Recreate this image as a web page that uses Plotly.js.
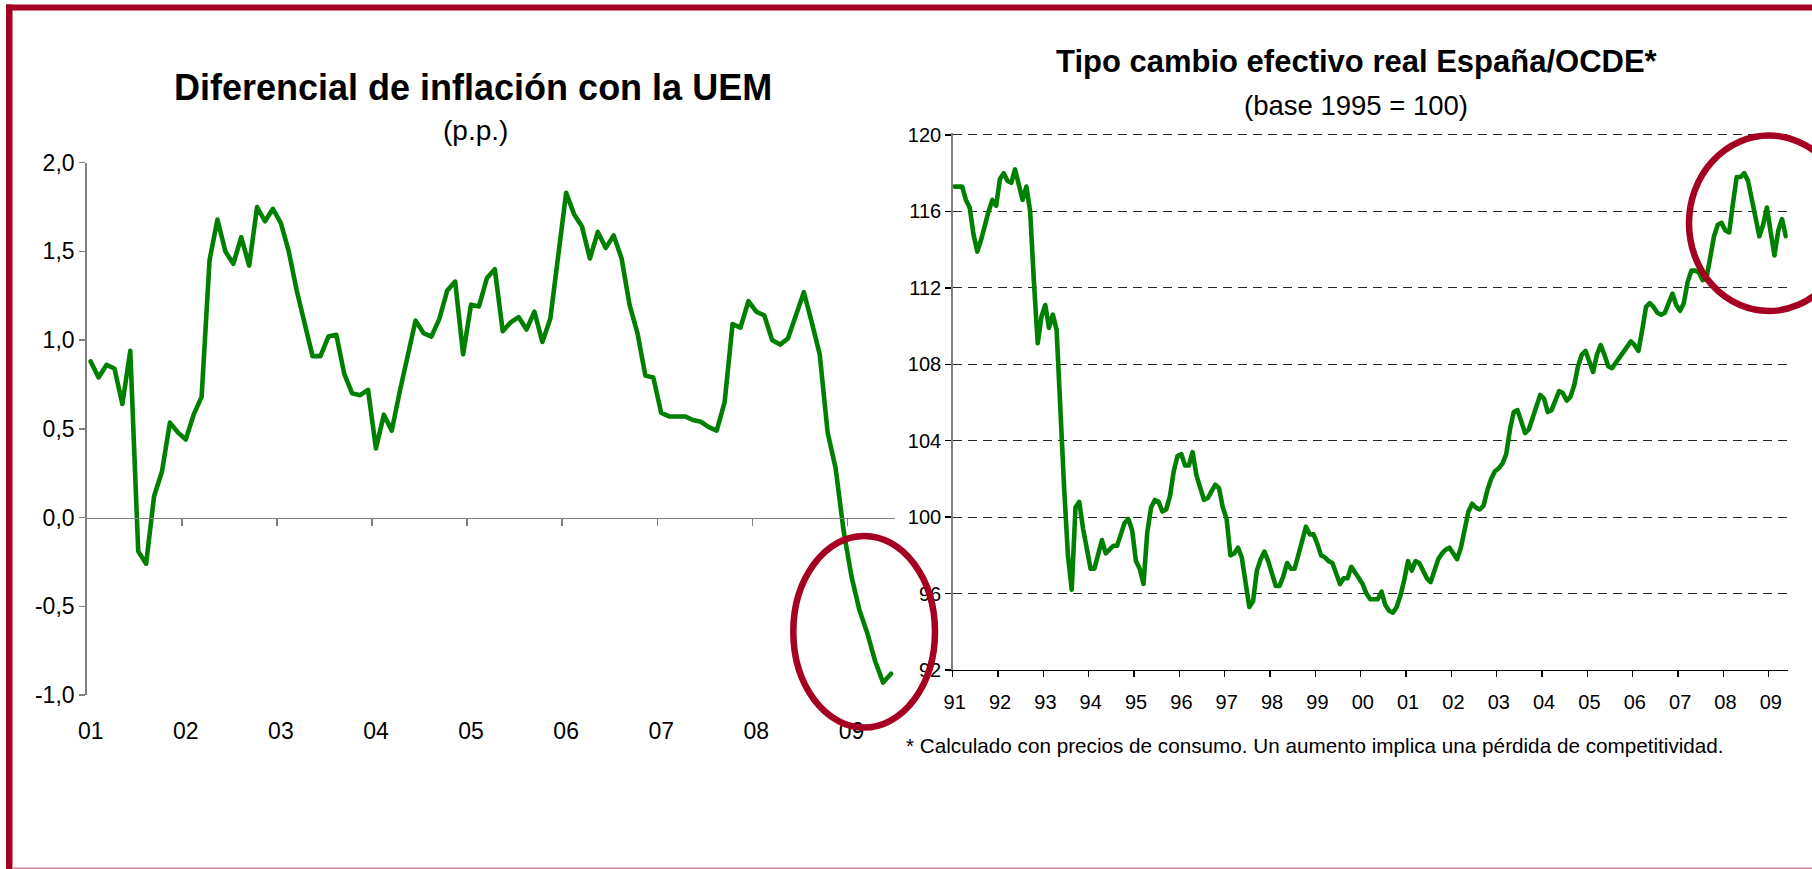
<!DOCTYPE html>
<html>
<head>
<meta charset="utf-8">
<script src="https://cdn.plot.ly/plotly-3.0.1.min.js"></script>
<style>
  html, body { margin: 0; padding: 0; background: #ffffff; }
  #chart { width: 1812px; height: 869px; }
  path.js-line { stroke-linejoin: round !important; stroke-linecap: round !important; }
</style>
</head>
<body>
<div id="chart"></div>
<script>
// ---------- DATA ----------
// Left chart: Diferencial de inflación con la UEM (p.p.), monthly Jan 2001 - Jun 2009
const leftYearLabels = ['01', '02', '03', '04', '05', '06', '07', '08', '09'];
const leftDiff = [
  0.88, 0.79, 0.86, 0.84, 0.64, 0.94, -0.19, -0.26, 0.12, 0.26, 0.535, 0.48,
  0.44, 0.58, 0.68, 1.45, 1.68, 1.50, 1.43, 1.58, 1.42, 1.75, 1.67, 1.74,
  1.66, 1.50, 1.28, 1.10, 0.91, 0.91, 1.02, 1.03, 0.81, 0.70, 0.69, 0.72,
  0.39, 0.58, 0.49, 0.71, 0.92, 1.11, 1.04, 1.02, 1.12, 1.28, 1.33, 0.92,
  1.20, 1.19, 1.35, 1.40, 1.05, 1.10, 1.13, 1.06, 1.16, 0.99, 1.12, 1.50,
  1.83, 1.71, 1.64, 1.46, 1.61, 1.52, 1.59, 1.46, 1.20, 1.04, 0.80, 0.79,
  0.59, 0.57, 0.57, 0.57, 0.55, 0.54, 0.51, 0.49, 0.65, 1.09, 1.07, 1.22,
  1.16, 1.14, 1.00, 0.975, 1.01, 1.14, 1.27, 1.10, 0.92, 0.48, 0.28, -0.07,
  -0.33, -0.52, -0.65, -0.81, -0.93, -0.88
];
const leftTickVals = [-1, -0.5, 0, 0.5, 1, 1.5, 2];
const leftTickText = ['-1,0', '-0,5', '0,0', '0,5', '1,0', '1,5', '2,0'];

// Right chart: Tipo cambio efectivo real España/OCDE (base 1995 = 100), monthly Jan 1991 - May 2009
const rightYearLabels = ['91', '92', '93', '94', '95', '96', '97', '98', '99', '00',
                         '01', '02', '03', '04', '05', '06', '07', '08', '09'];
const rightTcer = [
  117.3, 117.3, 117.3, 116.6, 116.2, 114.8, 113.9, 114.5, 115.3, 116.0, 116.6, 116.3,
  117.7, 118.0, 117.6, 117.5, 118.2, 117.4, 116.6, 117.3, 116.0, 112.3, 109.1, 110.5,
  111.1, 109.9, 110.6, 109.8, 105.0, 101.5, 98.0, 96.2, 100.5, 100.8, 99.4, 98.3,
  97.3, 97.3, 98.1, 98.8, 98.1, 98.3, 98.5, 98.5, 99.1, 99.7, 99.9, 99.3,
  97.7, 97.3, 96.5, 99.2, 100.5, 100.9, 100.8, 100.3, 100.4, 101.1, 102.4, 103.2,
  103.3, 102.7, 102.7, 103.4, 102.2, 101.5, 100.9, 101.0, 101.4, 101.7, 101.5, 100.5,
  99.9, 98.0, 98.1, 98.4, 97.9, 96.6, 95.3, 95.6, 97.2, 97.8, 98.2, 97.7,
  97.0, 96.4, 96.4, 96.9, 97.6, 97.3, 97.3, 98.0, 98.8, 99.5, 99.1, 99.1,
  98.6, 98.0, 97.9, 97.7, 97.6, 97.1, 96.5, 96.8, 96.8, 97.4, 97.1, 96.8,
  96.5, 96.0, 95.7, 95.7, 95.7, 96.1, 95.4, 95.1, 95.0, 95.3, 95.9, 96.7,
  97.7, 97.2, 97.7, 97.6, 97.2, 96.8, 96.6, 97.3, 97.8, 98.1, 98.3, 98.4,
  98.1, 97.8, 98.4, 99.4, 100.3, 100.7, 100.5, 100.4, 100.6, 101.4, 102.0, 102.4,
  102.55, 102.8, 103.3, 104.6, 105.5, 105.6, 105.0, 104.4, 104.6, 105.2, 105.9, 106.4,
  106.2, 105.5, 105.6, 106.1, 106.6, 106.5, 106.1, 106.3, 106.9, 107.9, 108.5, 108.7,
  108.2, 107.6, 108.5, 109.0, 108.5, 107.9, 107.8, 108.1, 108.3, 108.6, 109.0, 109.2,
  109.0, 108.7, 109.8, 111.0, 111.2, 111.0, 110.7, 110.6, 110.7, 111.2, 111.7, 111.1,
  110.8, 111.2, 112.3, 112.9, 112.9, 112.8, 112.4, 112.5, 113.6, 114.7, 115.3, 115.4,
  115.0, 114.9, 116.4, 117.8, 117.8, 118.0, 117.6, 116.6, 115.6, 114.7, 115.3, 116.2,
  114.9, 113.7, 115.0, 115.6, 114.7
];
const rightTickVals = [92, 96, 100, 104, 108, 112, 116, 120];

// ---------- LAYOUT HELPERS ----------
const W = 1812, H = 869;
const fx = px => px / W;
const fy = py => 1 - py / H;
const FONT = 'Liberation Sans, Arial, Helvetica, sans-serif';
const GREEN = '#008000';
const RED = '#A50021';

// month positions: each month sits in the middle of its slot, years start on the ticks
const leftX = leftDiff.map((_, i) => i + 0.5);
const rightX = rightTcer.map((_, i) => i + 0.5);
const leftYearTicks = leftYearLabels.map((_, k) => k * 12);
const rightYearTicks = rightYearLabels.map((_, k) => k * 12);

const leftYDomain = [fy(695), fy(162.7)];
const leftYRange = [-1, 2];
const zeroPos = leftYDomain[0] + (0 - leftYRange[0]) / (leftYRange[1] - leftYRange[0]) * (leftYDomain[1] - leftYDomain[0]);

// right y range padded a little above 120 so the top dashed gridline is drawn
const rightPad = 0.12;
const rightYRange = [92, 120 + rightPad];
const rightYDomain = [fy(670), fy(135 - rightPad * 19.107)];

const traces = [
  {
    type: 'scatter', mode: 'lines', x: leftX, y: leftDiff, xaxis: 'x', yaxis: 'y',
    line: { color: GREEN, width: 4.6 }, hoverinfo: 'skip'
  },
  {
    type: 'scatter', mode: 'lines', x: rightX, y: rightTcer, xaxis: 'x2', yaxis: 'y2',
    line: { color: GREEN, width: 4.6 }, hoverinfo: 'skip'
  }
];

const layout = {
  width: W, height: H,
  margin: { l: 0, r: 0, t: 0, b: 0 },
  paper_bgcolor: '#ffffff', plot_bgcolor: 'rgba(0,0,0,0)',
  showlegend: false,
  separators: ',.',
  font: { family: FONT, color: '#000000' },
  xaxis: {
    domain: [fx(86.7), fx(895)], range: [0, leftDiff.length],
    anchor: 'free', position: zeroPos,
    tickmode: 'array', tickvals: leftYearTicks, ticktext: leftYearLabels,
    ticks: 'outside', ticklen: 7, tickwidth: 1.5, tickcolor: '#808080',
    showline: true, linecolor: '#808080', linewidth: 1.5,
    showgrid: false, zeroline: false,
    ticklabelstandoff: 185, ticklabelshift: 4,
    tickfont: { family: FONT, size: 23, color: '#000' }
  },
  yaxis: {
    domain: leftYDomain, range: leftYRange, anchor: 'x',
    tickmode: 'array', tickvals: leftTickVals, ticktext: leftTickText,
    ticks: 'outside', ticklen: 6, tickwidth: 1.5, tickcolor: '#808080',
    showline: true, linecolor: '#808080', linewidth: 1.5,
    showgrid: false, zeroline: false,
    tickfont: { family: FONT, size: 23, color: '#000' }
  },
  xaxis2: {
    domain: [fx(952.7), fx(1787.7)], range: [0, rightTcer.length], anchor: 'y2',
    tickmode: 'array', tickvals: rightYearTicks, ticktext: rightYearLabels,
    ticks: 'outside', ticklen: 6, tickwidth: 1.3, tickcolor: '#000',
    showline: true, linecolor: '#000', linewidth: 1.3,
    showgrid: false, zeroline: false,
    ticklabelstandoff: 8, ticklabelshift: 2,
    tickfont: { family: FONT, size: 20, color: '#000' }
  },
  yaxis2: {
    domain: rightYDomain, range: rightYRange, anchor: 'x2',
    tickmode: 'array', tickvals: rightTickVals,
    ticks: 'outside', ticklen: 6, tickwidth: 1.3, tickcolor: '#000',
    showline: true, linecolor: '#808080', linewidth: 1.5,
    showgrid: true, gridcolor: '#262626', gridwidth: 1, griddash: '9px,6px',
    zeroline: false,
    tickfont: { family: FONT, size: 20, color: '#000' }
  },
  annotations: [
    { text: '<b>Diferencial de inflación con la UEM</b>', x: fx(473.5), y: fy(88), xref: 'paper', yref: 'paper',
      xanchor: 'center', yanchor: 'middle', showarrow: false, font: { family: FONT, size: 36, color: '#000' } },
    { text: '(p.p.)', x: fx(475), y: fy(131), xref: 'paper', yref: 'paper',
      xanchor: 'center', yanchor: 'middle', showarrow: false, font: { family: FONT, size: 28, color: '#000' } },
    { text: '<b>Tipo cambio efectivo real España/OCDE*</b>', x: fx(1357), y: fy(61), xref: 'paper', yref: 'paper',
      xanchor: 'center', yanchor: 'middle', showarrow: false, font: { family: FONT, size: 31, color: '#000' } },
    { text: '(base 1995 = 100)', x: fx(1356), y: fy(105.5), xref: 'paper', yref: 'paper',
      xanchor: 'center', yanchor: 'middle', showarrow: false, font: { family: FONT, size: 27.5, color: '#000' } },
    { text: '* Calculado con precios de consumo. Un aumento implica una pérdida de competitividad.',
      x: fx(903.8), y: fy(745), xref: 'paper', yref: 'paper',
      xanchor: 'left', yanchor: 'middle', showarrow: false, font: { family: FONT, size: 20.7, color: '#000' } }
  ],
  shapes: [
    // frame
    { type: 'rect', xref: 'paper', yref: 'paper', x0: fx(6), x1: fx(1812), y0: fy(10.5), y1: fy(4.5),
      fillcolor: RED, line: { width: 0 }, layer: 'above' },
    { type: 'rect', xref: 'paper', yref: 'paper', x0: fx(6), x1: fx(12.5), y0: fy(869), y1: fy(4.5),
      fillcolor: RED, line: { width: 0 }, layer: 'above' },
    { type: 'line', xref: 'paper', yref: 'paper', x0: fx(12.5), x1: fx(1812), y0: fy(868.3), y1: fy(868.3),
      line: { color: '#D9889A', width: 1.5 }, layer: 'above' },
    // highlight ellipses
    { type: 'circle', xref: 'paper', yref: 'paper', x0: fx(793.3), x1: fx(935), y0: fy(727.5), y1: fy(536),
      line: { color: RED, width: 6.5 }, fillcolor: 'rgba(0,0,0,0)', layer: 'above' },
    { type: 'circle', xref: 'paper', yref: 'paper', x0: fx(1689), x1: fx(1849), y0: fy(311), y1: fy(135.5),
      line: { color: RED, width: 6.5 }, fillcolor: 'rgba(0,0,0,0)', layer: 'above' }
  ]
};

Plotly.newPlot('chart', traces, layout, { staticPlot: true, displayModeBar: false });
</script>
</body>
</html>
